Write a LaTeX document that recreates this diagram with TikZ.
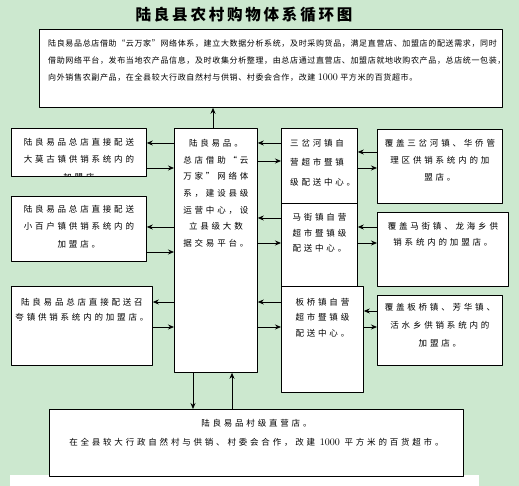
\documentclass[tikz,border=0pt]{standalone}
\usepackage{fontspec}
\usetikzlibrary{arrows.meta}
\newfontfamily\cjk{Noto Sans CJK SC}
\newfontfamily\cjkwide{Noto Sans CJK SC}[LetterSpace=33]
\newfontfamily\cjktop{Noto Sans CJK SC}[LetterSpace=8]
\newfontfamily\cjktitle{Noto Sans CJK SC}[LetterSpace=18]
\newcommand{\numtxt}[1]{{\rmfamily\fontsize{10}{12}\selectfont\addfontfeature{LetterSpace=25}#1}}
\definecolor{eyegreen}{RGB}{204,232,207}

\begin{document}
\begin{tikzpicture}[x=1pt, y=-1pt, line join=round, >={Stealth[length=6pt,width=5pt]}]
	\tikzset{box/.style={draw, line width=0.8pt, fill=white, anchor=north west, inner sep=0pt},
		txt/.style={anchor=north, align=center, inner sep=0pt, font=\cjkwide\fontsize{8.5}{#1}\selectfont},
		txt/.default=17,
		link/.style={->, line width=0.8pt}}
	\fill[eyegreen] (0,0) rectangle (519,486);
	\useasboundingbox (0,0) rectangle (519,486);
	\fill[white] (10,475) rectangle (479,486);
	% title
	\node[font=\cjktitle\bfseries\fontsize{15.5}{18}\selectfont] (title) at (244,15) {陆良县农村购物体系循环图};
	% boxes
	\node[box, minimum width=463pt, minimum height=78pt] (top) at (39,29) {};
	\node[box, minimum width=83pt, minimum height=244pt] (c) at (174,128) {};
	\node[box, minimum width=135pt, minimum height=48pt] (l1) at (11,128) {};
	\node[box, minimum width=135pt, minimum height=65pt] (l2) at (11,196) {};
	\node[box, minimum width=141pt, minimum height=79pt] (l3) at (11,286) {};
	\node[box, minimum width=76pt, minimum height=75pt] (m1) at (281,128) {};
	\node[box, minimum width=76pt, minimum height=83pt] (m2) at (281,203) {};
	\node[box, minimum width=82pt, minimum height=106pt] (m3) at (281,286) {};
	\node[box, minimum width=125pt, minimum height=74pt] (r1) at (377,129) {};
	\node[box, minimum width=131pt, minimum height=74pt] (r2) at (377,212) {};
	\node[box, minimum width=125pt, minimum height=70pt] (r3) at (377,295) {};
	\node[box, minimum width=414pt, minimum height=67pt] (bot) at (49,409) {};
	% texts
	\node[anchor=north west, align=left, inner sep=0pt, font=\cjktop\fontsize{8}{17}\selectfont] (topt) at ([xshift=9pt,yshift=-10pt]top.north west)
		{陆良易品总店借助“云万家”网络体系，建立大数据分析系统，及时采购货品，满足直营店、加盟店的配送需求，同时\\
		借助网络平台，发布当地农产品信息，及时收集分析整理，由总店通过直营店、加盟店就地收购农产品，总店统一包装，\\
		向外销售农副产品，在全县较大行政自然村与供销、村委会合作，改建 \numtxt{1000} 平方米的百货超市。};
	\node[txt=16.7] (ct) at ([yshift=-11pt]c.north) {陆良易品。\\总店借助“云\\万家”网络体\\系，建设县级\\运营中心，设\\立县级大数\\据交易平台。};
	\begin{scope}
		\clip (l1.north west) rectangle (l1.south east);
		\node[txt=17.5] (l1t) at ([yshift=-10pt]l1.north) {陆良易品总店直接配送\\大莫古镇供销系统内的\\加盟店};
	\end{scope}
	\node[txt=17.5] (l2t) at ([yshift=-9pt]l2.north) {陆良易品总店直接配送\\小百户镇供销系统内的\\加盟店。};
	\node[txt=15.5] (l3t) at ([yshift=-12pt]l3.north) {陆良易品总店直接配送召\\夸镇供销系统内的加盟店。};
	\node[txt=19.5, anchor=north west, align=left] (m1t) at ([xshift=9pt,yshift=-11pt]m1.north west) {三岔河镇自\\营超市暨镇\\级配送中心。};
	\node[txt=15.8] (m2t) at ([yshift=-10pt]m2.north) {马街镇自营\\超市暨镇级\\配送中心。};
	\node[txt=15.5] (m3t) at ([yshift=-12pt]m3.north) {板桥镇自营\\超市暨镇级\\配送中心。};
	\node[txt=17] (r1t) at ([yshift=-10pt]r1.north) {覆盖三岔河镇、华侨管\\理区供销系统内的加\\盟店。};
	\node[txt=16] (r2t) at ([yshift=-10pt]r2.north) {覆盖马街镇、龙海乡供\\销系统内的加盟店。};
	\node[txt=18] (r3t) at ([yshift=-8pt]r3.north) {覆盖板桥镇、芳华镇、\\活水乡供销系统内的\\加盟店。};
	\node[txt=19] (bott) at ([yshift=-10pt]bot.north) {陆良易品村级直营店。\\在全县较大行政自然村与供销、村委会合作，改建 \numtxt{1000} 平方米的百货超市。};
	% arrows
	\draw[link] (c.north -| 213,0) -- (top.south -| 213,0);
	\draw[link] (c.south -| 193,0) -- (bot.north -| 193,0);
	\draw[link] (bot.north -| 232,0) -- (c.south -| 232,0);
	\foreach \n/\ya/\yb in {l1/143/168, l2/227/252, l3/302/327}{
		\draw[link] (c.west |- 0,\ya) -- (\n.east |- 0,\ya);
		\draw[link] (\n.east |- 0,\yb) -- (c.west |- 0,\yb);
	}
	\foreach \n/\ya/\yb in {m1/143/161, m2/218/243, m3/302/327}{
		\draw[link] (\n.west |- 0,\ya) -- (c.east |- 0,\ya);
		\draw[link] (c.east |- 0,\yb) -- (\n.west |- 0,\yb);
	}
	\foreach \r/\m/\ya/\yb in {r1/m1/152/168, r2/m2/227/243, r3/m3/311/327}{
		\draw[link] (\r.west |- 0,\ya) -- (\m.east |- 0,\ya);
		\draw[link] (\m.east |- 0,\yb) -- (\r.west |- 0,\yb);
	}
\end{tikzpicture}
\end{document}
